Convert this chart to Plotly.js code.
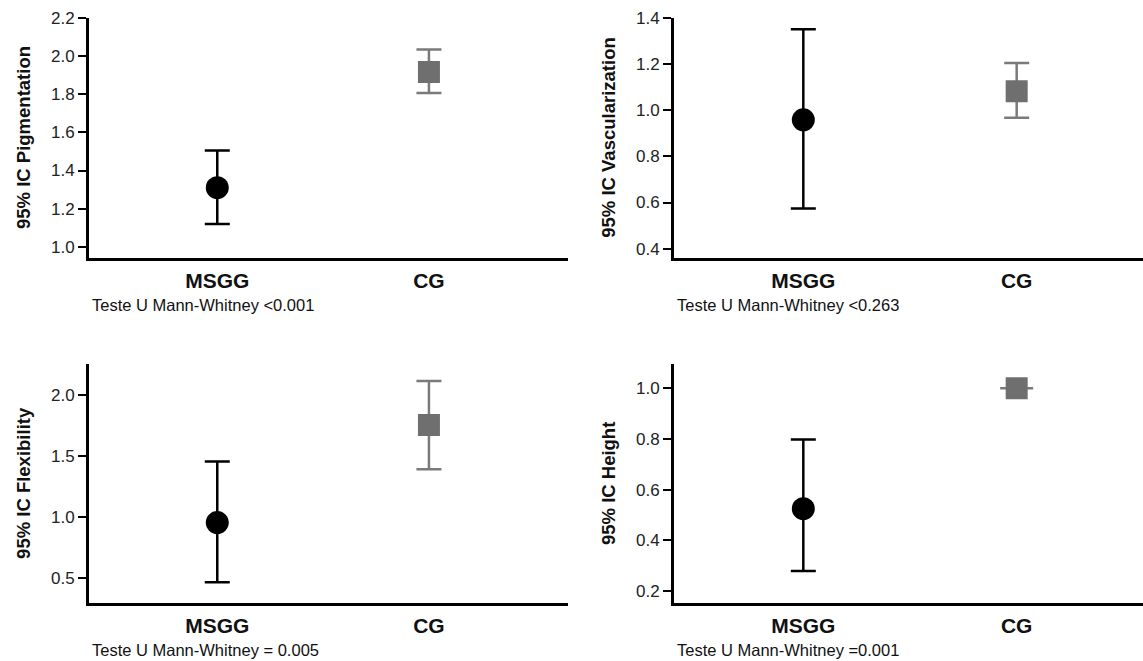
<!DOCTYPE html>
<html>
<head>
<meta charset="utf-8">
<script src="https://cdn.plot.ly/plotly-3.0.1.min.js"></script>
<style>html,body{margin:0;padding:0;background:#fff;}#chart{width:1143px;height:661px;}</style>
</head>
<body>
<div id="chart"></div>
<script>
// ---- data ----
const groups = ['MSGG', 'CG'];

const pigMean = [1.31, 1.915];
const pigLow  = [1.12, 1.805];
const pigHigh = [1.505, 2.033];

const vasMean = [0.958, 1.081];
const vasLow  = [0.574, 0.967];
const vasHigh = [1.35, 1.204];

const flexMean = [0.953, 1.754];
const flexLow  = [0.462, 1.391];
const flexHigh = [1.453, 2.115];

const heiMean = [0.525, 1.0];
const heiLow  = [0.279, 1.0];
const heiHigh = [0.798, 1.0];

const yTitles = ['95% IC Pigmentation', '95% IC Vascularization', '95% IC Flexibility', '95% IC Height'];
const testTexts = ['Teste U Mann-Whitney <0.001', 'Teste U Mann-Whitney <0.263',
                   'Teste U Mann-Whitney = 0.005', 'Teste U Mann-Whitney =0.001'];

// ---- styling ----
const W = 1143, H = 661;
const FONT = '"Liberation Sans", Arial, sans-serif';
const colors = ['#000000', '#6f6f6f'];
const errColors = ['#000000', '#7a7a7a'];
const symbols = ['circle', 'square'];
const sizes = [23, 22];

const panels = [
  {mean: pigMean, low: pigLow, high: pigHigh, x: [89, 568], y: [17.5, 257.5], yr: [0.945, 2.2005], dtick: 0.2, tick0: 1.0, xr: [-0.606, 1.657]},
  {mean: vasMean, low: vasLow, high: vasHigh, x: [674, 1143], y: [17.5, 257.5], yr: [0.362, 1.4005], dtick: 0.2, tick0: 0.4, xr: [-0.606, 1.592]},
  {mean: flexMean, low: flexLow, high: flexHigh, x: [89, 568], y: [364, 602.7], yr: [0.295, 2.254], dtick: 0.5, tick0: 0.5, xr: [-0.606, 1.657]},
  {mean: heiMean, low: heiLow, high: heiHigh, x: [674, 1143], y: [364, 602.7], yr: [0.154, 1.096], dtick: 0.2, tick0: 0.2, xr: [-0.606, 1.592]}
];

const traces = [];
const layout = {
  width: W, height: H,
  margin: {l: 0, r: 0, t: 0, b: 0},
  paper_bgcolor: '#ffffff', plot_bgcolor: '#ffffff',
  showlegend: false,
  font: {family: FONT, color: '#111'},
  annotations: []
};

panels.forEach((p, i) => {
  const n = i + 1;
  const xa = 'x' + (n === 1 ? '' : n), ya = 'y' + (n === 1 ? '' : n);
  const xk = 'xaxis' + (n === 1 ? '' : n), yk = 'yaxis' + (n === 1 ? '' : n);
  groups.forEach((g, j) => {
    const zero = (p.high[j] - p.mean[j]) === 0 && (p.mean[j] - p.low[j]) === 0;
    traces.push({
      type: 'scatter', mode: 'markers',
      x: [g], y: [p.mean[j]],
      xaxis: xa, yaxis: ya,
      marker: {symbol: symbols[j], size: sizes[j], color: colors[j], line: {width: 0}},
      error_y: {type: 'data', symmetric: false,
        array: [p.high[j] - p.mean[j]], arrayminus: [p.mean[j] - p.low[j]],
        color: errColors[j], thickness: 2.5, width: zero ? 16.5 : 12.5},
      hoverinfo: 'x+y'
    });
  });
  layout[xk] = {
    domain: [p.x[0] / W, p.x[1] / W],
    anchor: ya,
    type: 'category', categoryorder: 'array', categoryarray: groups,
    range: p.xr,
    showline: true, linecolor: '#000', linewidth: 3,
    ticks: '', showgrid: false, zeroline: false,
    tickfont: {family: FONT, size: 21, color: '#111', weight: 'bold'},
    ticklabelstandoff: 2
  };
  layout[yk] = {
    domain: [1 - p.y[1] / H, 1 - p.y[0] / H],
    anchor: xa,
    range: p.yr,
    tick0: p.tick0, dtick: p.dtick, tickformat: '.1f',
    showline: true, linecolor: '#000', linewidth: 3,
    ticks: 'outside', ticklen: 8, tickwidth: 2, tickcolor: '#000',
    showgrid: false, zeroline: false,
    tickfont: {family: FONT, size: 17, color: '#222'},
    title: {text: yTitles[i], font: {family: FONT, size: 18.5, color: '#111', weight: 'bold'}, standoff: 16}
  };
  layout.annotations.push({
    xref: 'paper', yref: 'paper',
    x: (p.x[0] + 1) / W, y: 1 - (p.y[1] + 47.5) / H,
    xanchor: 'left', yanchor: 'middle',
    text: testTexts[i], showarrow: false,
    font: {family: FONT, size: 16.5, color: '#111'}
  });
});

Plotly.newPlot('chart', traces, layout, {displayModeBar: false, staticPlot: true});
</script>
</body>
</html>
